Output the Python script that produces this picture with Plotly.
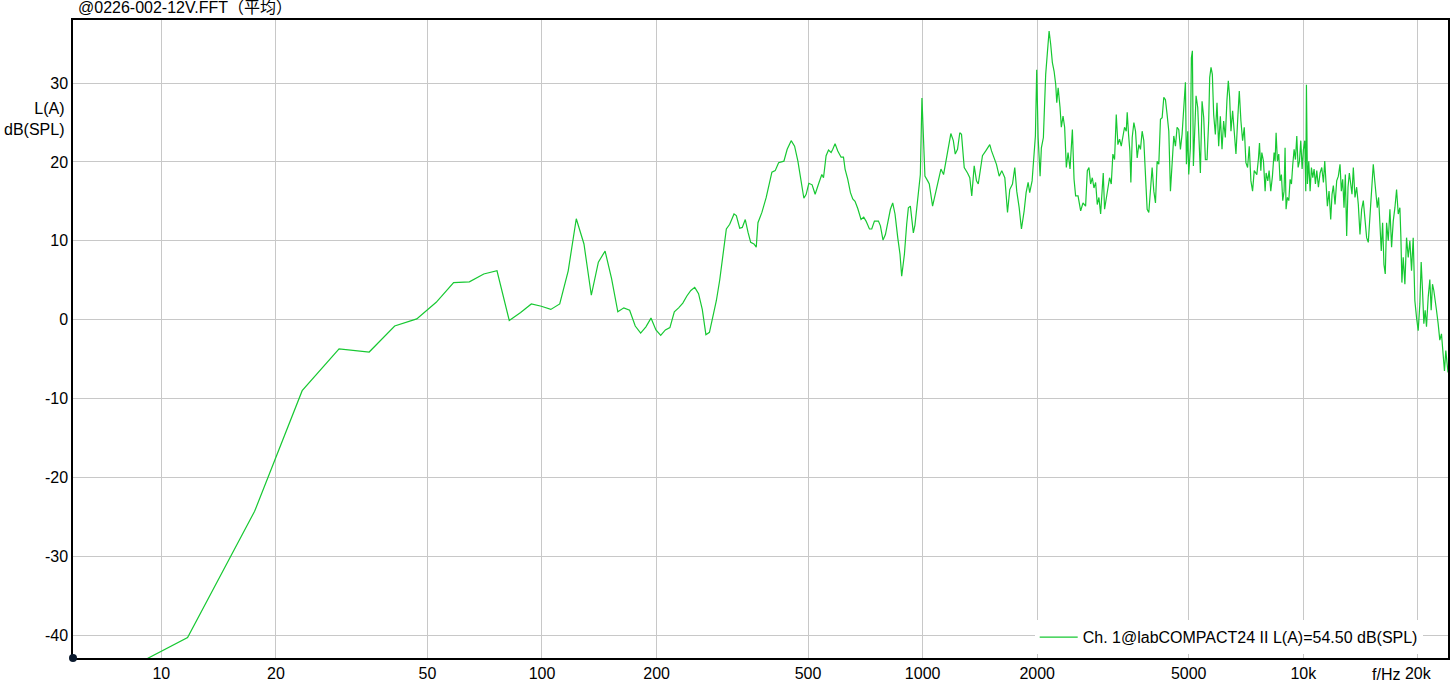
import plotly.graph_objects as go

TITLE = "@0226-002-12V.FFT（平均）"
LEGEND_NAME = "Ch. 1@labCOMPACT24 II L(A)=54.50 dB(SPL)"

x_tick_vals = [10, 20, 50, 100, 200, 500, 1000, 2000, 5000, 10000, 20000]
x_tick_text = ["10", "20", "50", "100", "200", "500", "1000", "2000", "5000", "10k", "20k"]
y_tick_vals = [-40, -30, -20, -10, 0, 10, 20, 30]
y_tick_text = ["-40", "-30", "-20", "-10", "0", "10", "20", "30"]

# low-frequency FFT bins (Hz, dB)
freq_low = [5.86, 11.72, 17.58, 23.44, 29.30, 35.16, 41.02, 46.88, 52.73, 58.59,
            64.45, 70.31, 76.17, 82.03, 87.89, 93.75, 99.61, 105.47, 111.33, 117.19,
            123.05, 128.91, 134.77, 140.63, 146.48, 152.34, 158.20, 164.06, 169.92, 175.78,
            181.64, 187.50, 193.36, 199.22, 205.08, 210.94, 216.80, 222.66, 228.52, 234.38,
            240.23, 246.09, 251.95, 257.81, 263.67, 269.53, 275.39, 281.25, 287.11, 292.97]
db_low = [-47.9, -40.3, -24.3, -9.0, -3.7, -4.1, -0.8, 0.1, 2.2, 4.7,
          4.8, 5.8, 6.2, -0.1, 0.9, 2.0, 1.7, 1.3, 2.0, 6.2,
          12.8, 9.6, 3.1, 7.3, 8.7, 5.2, 1.0, 1.5, 1.2, -0.8,
          -1.7, -0.9, 0.2, -1.3, -2.0, -1.3, -1.0, 1.0, 1.5, 2.1,
          3.0, 3.7, 4.1, 3.3, 1.3, -1.9, -1.6, 0.5, 2.4, 5.0]

freq_mid = [300.8, 305.0, 311.3, 319.5, 324.0, 330.7, 335.9, 342.0, 347.7, 353.4,
            360.4, 365.5, 369.3, 378.2, 388.2, 396.2, 401.8, 409.9, 418.4, 432.0,
            440.7, 451.5, 460.9, 470.2, 479.6, 487.5, 494.3, 502.4, 512.5, 521.9,
            532.7, 543.4, 549.0, 557.7, 565.9, 574.8, 580.7, 588.8, 598.5, 610.6,
            619.5, 625.5, 635.8, 646.2, 655.3, 664.4, 675.4, 688.9, 700.3, 710.1,
            724.9, 735.0, 747.1, 765.4, 774.6, 786.9, 798.4, 809.6, 822.9, 834.4,
            846.1, 860.2, 872.1, 881.0, 895.6, 908.0, 917.3, 928.5, 945.4, 954.6]
db_mid = [9.6, 11.5, 12.1, 13.4, 13.2, 11.6, 11.7, 12.7, 11.1, 9.8,
          9.6, 9.2, 12.3, 13.6, 15.5, 17.6, 18.7, 18.9, 19.9, 20.1,
          21.6, 22.7, 22.0, 20.1, 17.4, 15.4, 15.9, 17.3, 17.1, 15.9,
          17.2, 18.4, 18.0, 20.8, 21.5, 21.2, 21.6, 22.3, 21.4, 20.6,
          20.6, 19.1, 17.8, 16.1, 15.3, 15.0, 14.1, 12.7, 13.0, 12.5,
          11.5, 11.5, 12.5, 12.5, 11.9, 10.1, 10.8, 12.4, 14.0, 14.8,
          13.4, 10.4, 8.3, 5.5, 8.3, 12.1, 14.2, 14.4, 11.0, 12.0]

freq_k1 = [970.3, 986.2, 995.8, 1006, 1014, 1031, 1041, 1062, 1084, 1106,
           1117, 1135, 1151, 1168, 1186, 1204, 1218, 1235, 1252, 1265,
           1286, 1312, 1330, 1346, 1366, 1385, 1400, 1417, 1436, 1465,
           1487, 1501, 1517, 1542, 1563, 1589, 1614, 1644, 1671, 1694,
           1722, 1746, 1767, 1793, 1818, 1848, 1870, 1893, 1911, 1939,
           1963, 1978, 1994, 2011, 2035, 2051, 2076, 2105, 2127, 2149,
           2170, 2192, 2215, 2237, 2251, 2270, 2296, 2314, 2338, 2361,
           2385, 2410, 2439, 2474, 2499, 2523, 2560, 2601, 2638, 2680]
db_k1 = [15.1, 18.4, 28.1, 21.0, 18.2, 17.6, 17.2, 14.4, 16.3, 18.0,
         19.1, 18.4, 19.9, 21.8, 23.6, 22.7, 21.0, 21.6, 23.7, 23.5,
         19.3, 18.6, 18.0, 15.7, 19.5, 17.6, 17.2, 18.9, 20.8, 21.4,
         22.0, 22.2, 21.4, 20.3, 19.7, 18.2, 18.9, 18.0, 13.6, 16.5,
         17.2, 19.3, 16.3, 14.2, 11.5, 13.8, 16.1, 17.4, 16.1, 17.6,
         21.6, 23.3, 31.7, 23.1, 18.2, 21.8, 23.1, 31.1, 33.9, 36.6,
         34.9, 32.6, 31.5, 29.8, 27.5, 29.4, 26.9, 24.4, 25.8, 24.4,
         19.3, 21.2, 19.1, 24.1, 17.8, 15.7, 15.7, 13.8, 14.8, 14.4]

freq_k3 = [2708, 2735, 2763, 2791, 2819, 2848, 2876, 2905, 2935, 2964,
           2982, 3006, 3037, 3067, 3098, 3130, 3161, 3193, 3226, 3258,
           3291, 3325, 3358, 3392, 3427, 3447, 3475, 3503, 3524, 3553,
           3589, 3625, 3661, 3698, 3735, 3773, 3811, 3850, 3889, 3928,
           3968, 4008, 4049, 4090, 4131, 4173, 4215, 4258, 4301, 4344,
           4388, 4433, 4477, 4523, 4569, 4615, 4661, 4709, 4756, 4804,
           4853, 4902, 4932, 4971, 5001, 5051, 5082, 5113, 5144, 5175,
           5228, 5281, 5334, 5366, 5421, 5476, 5531, 5587, 5643, 5677,
           5723, 5769, 5816, 5875, 5934, 5994, 6055, 6116, 6177, 6240,
           6303, 6354, 6405, 6457, 6522, 6588, 6655, 6722, 6790, 6858,
           6928, 6998, 7068, 7140, 7212, 7285, 7359, 7433]
db_k3 = [18.9, 19.3, 17.2, 18.0, 16.7, 17.4, 14.6, 15.5, 13.4, 15.9,
         18.6, 14.0, 15.5, 16.7, 18.0, 17.2, 21.0, 20.3, 26.0, 22.2,
         22.9, 22.0, 23.1, 24.4, 23.9, 26.3, 23.5, 21.4, 17.4, 23.1,
         25.0, 23.9, 20.5, 22.2, 21.6, 23.9, 22.7, 17.2, 14.0, 13.6,
         16.7, 19.3, 16.3, 14.8, 20.1, 19.7, 25.4, 25.6, 28.2, 27.9,
         26.0, 23.9, 16.3, 20.8, 23.3, 22.0, 24.4, 24.1, 21.6, 23.5,
         27.1, 30.1, 19.7, 23.9, 18.4, 21.8, 33.2, 34.1, 19.5, 23.7,
         28.4, 26.9, 22.7, 18.6, 27.7, 25.6, 20.3, 20.3, 25.2, 30.7,
         32.0, 31.1, 26.0, 23.5, 27.5, 22.0, 25.8, 21.6, 25.2, 23.1,
         27.9, 30.3, 28.2, 23.9, 26.5, 23.5, 21.0, 25.2, 29.0, 25.2,
         22.7, 24.4, 19.9, 19.3, 22.0, 17.6, 16.3, 18.9]

freq_k8 = [7551, 7627, 7673, 7735, 7782, 7860, 7939, 7987, 8068, 8133,
           8215, 8298, 8382, 8433, 8484, 8552, 8621, 8691, 8761, 8832,
           8903, 8957, 9011, 9084, 9162, 9235, 9310, 9385, 9461, 9537,
           9615, 9693, 9772, 9850, 9930, 10010, 10091, 10152, 10193, 10255,
           10338, 10421, 10506, 10590, 10676, 10763, 10850, 10959, 11070, 11182,
           11295, 11386, 11478, 11570, 11687, 11805, 11900, 11996, 12118, 12240,
           12364, 12489, 12590, 12692, 12794, 12897, 13002, 13107, 13213, 13319,
           13427, 13536, 13673, 13811, 13951, 14092, 14234, 14378, 14523, 14670,
           14818, 14968, 15119, 15272, 15396, 15520, 15646, 15772, 15900, 16028,
           16158, 16289, 16420, 16553, 16720, 16889, 17060, 17233, 17407, 17583,
           17761, 17940, 18049, 18158, 18305, 18490, 18677, 18866, 19056, 19249,
           19443, 19640, 19838, 20039, 20242, 20405, 20570, 20736, 20904, 21073,
           21286, 21501, 21675, 21850, 22027, 22205, 22385, 22611, 22840, 23071,
           23305, 23493, 23683, 24000]
db_k8 = [18.4, 20.5, 22.4, 18.9, 21.2, 20.1, 16.3, 18.6, 17.6, 18.9,
         16.3, 18.2, 21.2, 20.1, 23.7, 20.1, 21.0, 17.6, 18.4, 15.1,
         16.3, 21.8, 14.0, 15.5, 15.1, 17.8, 17.2, 19.7, 21.6, 20.3,
         23.3, 19.3, 20.1, 22.7, 19.1, 21.6, 22.7, 16.3, 29.8, 17.2,
         20.1, 16.3, 19.3, 18.0, 19.1, 17.2, 18.9, 16.8, 18.6, 19.3,
         17.4, 20.1, 16.3, 14.4, 16.3, 12.7, 15.9, 17.0, 14.6, 17.6,
         18.2, 19.7, 16.3, 17.8, 14.2, 18.4, 10.6, 16.8, 18.6, 17.2,
         15.9, 19.3, 15.5, 16.8, 14.6, 10.8, 14.0, 15.1, 12.1, 10.4,
         9.8, 13.4, 16.1, 19.7, 17.8, 16.3, 14.2, 15.5, 12.1, 8.7,
         12.3, 7.0, 5.8, 12.3, 10.0, 14.0, 9.2, 12.5, 14.2, 16.5,
         13.4, 14.2, 10.4, 4.7, 7.9, 4.5, 10.4, 7.9, 10.0, 6.2,
         10.4, 2.4, 0.3, -1.4, 2.0, 7.3, 3.7, -0.5, 1.2, -0.9,
         2.8, 5.1, 1.2, 4.5, 3.7, 2.0, 1.2, -0.5, -2.6, -1.8,
         -4.3, -6.5, -3.9, -6.7]

freqs = freq_low + freq_mid + freq_k1 + freq_k3 + freq_k8
dbs = db_low + db_mid + db_k1 + db_k3 + db_k8

FONT = "Liberation Sans, Arial, Noto Sans CJK SC, sans-serif"
GRID = "#c8c8c8"
FS = 16

fig = go.Figure()
fig.add_trace(go.Scatter(
    x=freqs, y=dbs, mode="lines", name=LEGEND_NAME,
    line=dict(color="#17c832", width=1.2),
))

fig.update_layout(
    width=1452, height=692,
    margin=dict(l=73, r=2, t=20, b=34),
    paper_bgcolor="white", plot_bgcolor="white",
    font=dict(family=FONT, size=FS, color="#000000"),
    showlegend=True,
    legend=dict(
        x=0.9816, y=0.006, xanchor="right", yanchor="bottom",
        bgcolor="white", borderwidth=0,
        font=dict(family=FONT, size=FS, color="#000000"),
        itemwidth=38, tracegroupgap=0,
    ),
    xaxis=dict(
        type="log",
        range=[0.7679, 4.3802],
        tickvals=x_tick_vals, ticktext=x_tick_text,
        showgrid=True, gridcolor=GRID, gridwidth=1,
        showline=True, linecolor="black", linewidth=1.5, mirror=True,
        ticks="", zeroline=False,
        tickfont=dict(family=FONT, size=FS, color="#000000"),
    ),
    yaxis=dict(
        range=[-42.9, 38.0],
        tickvals=y_tick_vals, ticktext=y_tick_text,
        showgrid=True, gridcolor=GRID, gridwidth=1,
        showline=True, linecolor="black", linewidth=1.5, mirror=True,
        ticks="", zeroline=False,
        tickfont=dict(family=FONT, size=FS, color="#000000"),
    ),
    annotations=[
        dict(text=TITLE, xref="paper", yref="paper", x=0.002, y=1.019,
             xanchor="left", yanchor="middle", showarrow=False,
             font=dict(family=FONT, size=FS, color="#000000")),
        dict(text="L(A)<br>dB(SPL)", xref="paper", yref="paper", x=-0.005, y=0.845,
             xanchor="right", yanchor="middle", align="right", showarrow=False,
             font=dict(family=FONT, size=FS, color="#000000")),
        dict(text="f/Hz", xref="paper", yref="paper", x=0.955, y=-0.0255,
             xanchor="center", yanchor="middle", showarrow=False,
             font=dict(family=FONT, size=FS, color="#000000")),
    ],
    shapes=[
        dict(type="circle", xref="paper", yref="paper", xsizemode="pixel", ysizemode="pixel",
             xanchor=0, yanchor=0, x0=-4, x1=4, y0=-4, y1=4,
             fillcolor="#0b1a2e", line=dict(color="#0b1a2e", width=0)),
    ],
)

fig.write_html("out.html", config={"displayModeBar": False},
               post_script="document.body.style.margin='0';document.body.style.overflow='hidden';")
